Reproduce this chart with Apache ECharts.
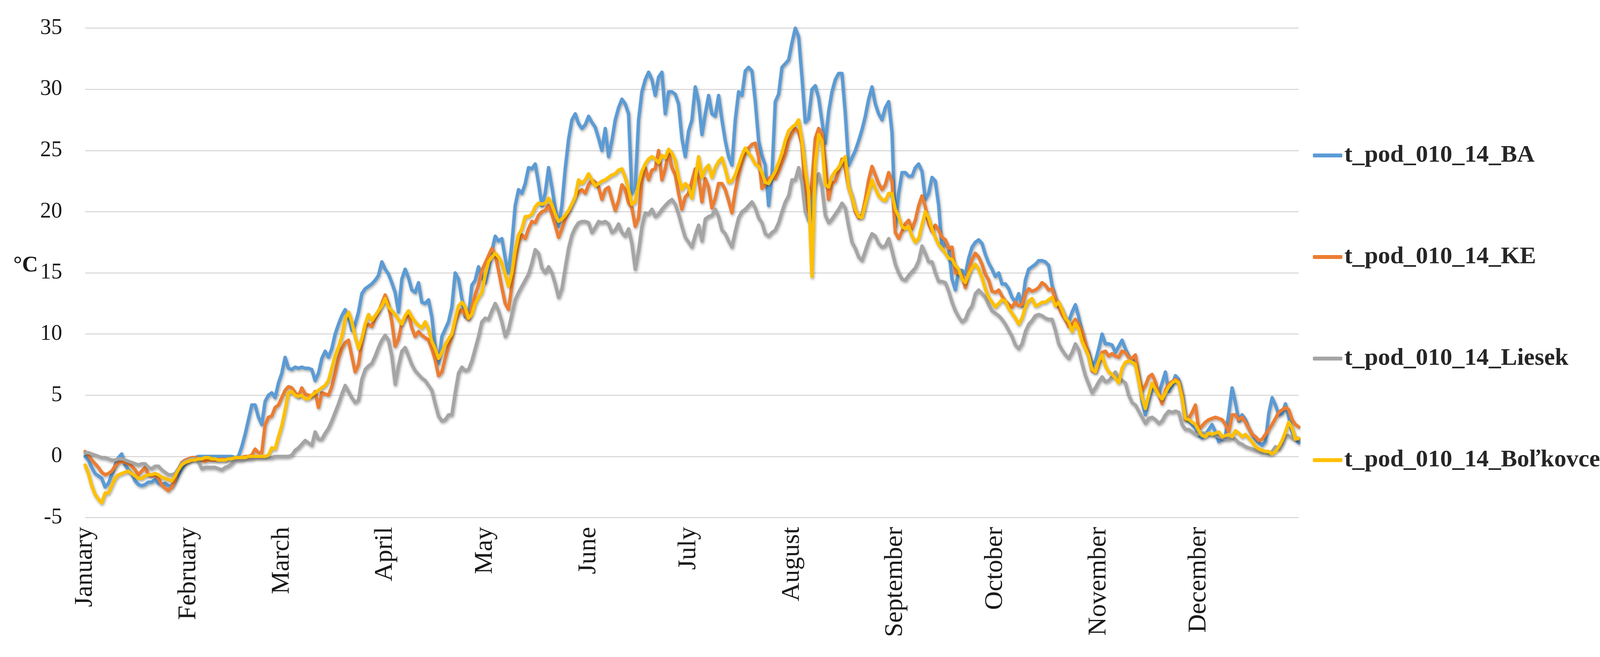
<!DOCTYPE html>
<html>
<head>
<meta charset="utf-8">
<script src="https://cdn.jsdelivr.net/npm/echarts@6/dist/echarts.min.js"></script>
<style>
html,body{margin:0;padding:0;background:#fff;overflow:hidden;}
#chart{width:100vw;height:100vh;}
</style>
</head>
<body>
<div id="chart"></div>
<script>
// Month names (tick labels) and month lengths
const monthNames = ['January','February','March','April','May','June','July','August','September','October','November','December'];
const monthLengths = [31,28,31,30,31,30,31,31,30,31,30,31];
const seriesNames = ['t_pod_010_14_BA','t_pod_010_14_KE','t_pod_010_14_Liesek','t_pod_010_14_Boľkovce'];

// Daily values, 10 days per line
const BA = [
0.0,-0.3,-0.9,-1.4,-1.6,-1.8,-2.5,-2.2,-1.5,-0.7,
-0.1,0.2,-0.7,-1.1,-1.4,-2.0,-2.3,-2.4,-2.3,-2.1,
-2.1,-1.9,-2.2,-2.3,-2.2,-2.4,-2.4,-2.0,-1.5,-1.0,
-0.6,-0.4,-0.2,-0.1,0.0,0.0,0.0,0.0,0.0,0.0,
0.0,0.0,0.0,0.0,0.0,-0.1,0.0,0.8,1.8,3.0,
4.2,4.2,3.2,2.6,4.5,5.0,5.2,4.8,6.0,6.8,
8.1,7.2,7.1,7.3,7.2,7.3,7.2,7.2,7.1,6.2,
6.8,8.0,8.6,8.1,8.8,10.0,10.8,11.5,12.0,11.4,
10.3,10.8,11.8,13.3,13.7,13.9,14.1,14.4,14.8,15.9,
15.3,14.9,14.2,13.4,11.8,14.5,15.3,14.6,13.6,13.4,
14.2,12.6,12.5,12.8,11.4,9.0,7.6,9.8,10.4,11.0,
12.2,15.0,14.5,12.9,11.4,11.5,14.0,14.4,15.5,14.7,
14.2,15.3,16.8,18.0,17.6,17.8,16.2,15.0,17.4,20.5,
21.8,21.5,22.3,23.6,23.5,23.9,22.3,20.5,21.5,23.6,
22.0,20.3,18.8,20.5,23.5,25.9,27.5,28.0,27.2,26.8,
27.1,27.8,27.3,26.9,26.0,25.0,26.8,24.5,25.8,27.5,
28.5,29.2,28.8,28.0,21.5,22.0,27.5,29.8,30.8,31.4,
30.8,29.5,31.0,31.4,28.0,29.8,29.8,29.6,28.8,26.0,
24.5,26.6,27.5,30.2,29.0,26.3,28.0,29.5,28.0,27.8,
29.5,27.5,25.8,24.5,23.8,27.5,29.8,29.5,31.5,31.8,
31.5,29.0,25.8,24.6,23.8,20.5,23.0,29.0,29.6,31.8,
32.1,32.4,33.8,35.0,34.3,31.0,27.3,27.6,30.0,30.3,
29.3,27.4,25.6,28.2,29.8,30.8,31.3,31.3,28.0,23.8,
24.4,25.0,25.8,26.7,27.8,29.2,30.2,28.8,28.0,27.5,
28.5,29.0,26.5,18.8,21.5,23.2,23.2,22.9,22.9,23.6,
23.9,23.3,21.0,21.5,22.8,22.5,20.5,17.0,17.5,17.0,
14.5,13.6,15.2,15.2,14.9,16.2,17.1,17.5,17.7,17.4,
16.5,15.8,15.3,14.7,15.0,14.1,14.1,13.7,13.0,12.6,
13.3,12.3,14.4,15.3,15.5,15.7,16.0,16.0,15.9,15.6,
14.0,13.0,12.4,12.0,11.3,11.0,11.8,12.4,11.4,10.2,
9.1,8.5,7.4,7.8,8.8,10.0,9.2,9.2,9.1,8.5,
9.0,9.5,8.8,8.2,7.9,7.8,6.5,4.5,3.4,4.6,
5.5,5.6,5.1,6.0,6.9,5.3,5.8,6.6,6.3,5.0,
3.1,2.9,2.6,2.3,1.7,1.5,1.8,2.2,2.6,2.0,
1.2,1.4,1.7,3.5,5.6,4.4,2.9,3.4,3.0,2.3,
1.8,1.4,1.1,0.9,1.2,3.5,4.8,4.2,3.4,3.5,
4.3,3.2,2.0,1.4,1.1
];

const KE = [
0.4,0.1,-0.3,-0.6,-0.9,-1.3,-1.5,-1.4,-1.2,-0.8,
-0.5,-0.4,-0.5,-0.6,-0.8,-1.1,-1.5,-1.2,-0.9,-1.5,
-1.6,-1.5,-1.8,-2.3,-2.6,-2.8,-2.5,-1.9,-1.0,-0.5,
-0.3,-0.2,-0.1,-0.1,-0.2,-0.3,-0.4,-0.3,-0.3,-0.3,
-0.3,-0.2,-0.3,-0.2,-0.2,-0.1,-0.1,-0.1,0.0,0.0,
0.1,0.6,0.3,0.3,2.6,3.2,3.3,4.0,4.2,4.8,
5.4,5.7,5.6,5.2,4.9,5.6,5.1,5.0,4.9,5.3,
4.0,5.2,5.1,5.0,5.7,6.8,8.0,8.8,9.3,9.5,
8.2,6.9,7.5,9.3,10.6,10.8,10.6,11.3,11.8,12.5,
13.2,12.4,11.0,9.0,9.6,10.9,11.3,11.6,10.5,9.8,
10.2,9.9,9.7,9.5,8.8,7.9,6.6,6.9,8.0,9.0,
9.8,11.0,11.7,12.0,11.6,11.2,12.2,13.2,14.0,15.2,
15.8,16.4,17.0,16.5,15.2,13.8,12.5,12.0,14.0,16.0,
17.5,18.1,17.8,18.6,19.2,19.1,19.7,20.0,20.1,20.5,
19.8,18.9,17.9,18.6,19.4,20.0,20.6,21.2,21.6,21.8,
21.5,22.2,22.6,22.4,22.0,21.0,21.8,22.0,21.0,20.1,
20.9,22.2,21.8,20.7,20.3,18.8,19.5,22.5,23.6,22.6,
23.4,23.5,25.0,22.6,23.5,24.9,23.6,23.0,21.5,20.2,
21.2,21.5,22.5,23.5,22.8,20.8,22.7,22.0,20.3,21.1,
22.3,22.3,21.8,20.9,19.9,21.7,23.0,24.0,24.8,25.2,
25.5,25.6,24.5,21.9,22.2,22.7,22.9,22.7,23.3,24.0,
24.7,25.8,26.4,26.8,26.5,25.5,21.5,19.4,22.5,26.0,
26.8,26.4,24.0,21.0,22.3,22.5,23.3,24.3,23.5,22.0,
21.2,20.0,19.5,19.7,21.0,22.6,23.7,23.0,22.3,21.8,
22.2,23.2,22.5,18.3,17.8,18.4,19.0,19.3,18.6,19.3,
20.5,21.3,20.4,19.0,18.4,18.9,18.5,17.9,17.7,17.0,
17.1,15.0,15.0,14.8,13.8,15.2,16.1,16.6,16.3,15.7,
14.9,14.4,13.5,13.4,13.6,13.1,12.7,12.4,12.2,12.6,
12.3,12.4,13.3,13.7,13.5,13.6,13.8,14.2,14.0,13.6,
13.7,12.9,12.2,11.6,11.2,10.6,10.8,11.2,10.8,10.2,
9.3,8.3,7.0,6.9,7.6,8.5,8.6,8.2,8.4,8.2,
8.1,8.6,8.5,8.1,8.0,8.3,6.5,5.4,5.8,6.5,
6.7,6.1,5.1,4.3,5.4,5.9,6.1,6.3,6.1,5.0,
3.0,3.1,3.6,4.2,2.2,2.5,2.8,3.0,3.1,3.2,
3.1,3.0,2.6,2.0,3.4,3.4,3.0,3.2,2.8,2.3,
1.8,1.6,1.3,1.4,1.8,2.2,2.6,3.1,3.6,3.8,
4.0,3.8,3.0,2.6,2.4
];

const Liesek = [
0.3,0.3,0.2,0.1,0.0,-0.1,-0.1,-0.2,-0.3,-0.3,
-0.2,-0.2,-0.3,-0.4,-0.5,-0.6,-0.7,-0.6,-0.6,-0.9,
-1.0,-0.8,-0.8,-1.1,-1.3,-1.5,-1.5,-1.4,-1.0,-0.6,
-0.4,-0.3,-0.2,-0.2,-0.4,-1.0,-0.9,-0.9,-0.9,-0.9,
-1.0,-1.1,-0.9,-0.8,-0.6,-0.3,-0.3,-0.3,-0.2,-0.2,
-0.2,-0.1,-0.1,-0.1,-0.1,-0.1,-0.1,0.0,0.0,0.0,
0.0,0.0,0.1,0.5,0.7,1.0,1.3,1.1,0.9,2.0,
1.4,1.4,1.9,2.3,2.9,3.6,4.3,5.1,5.8,5.3,
4.8,4.4,4.6,6.3,7.1,7.4,7.6,8.2,8.9,9.5,
9.9,9.5,8.2,5.9,7.4,8.6,8.9,8.2,7.5,7.0,
6.7,6.4,6.2,5.8,5.4,4.3,3.3,2.9,3.0,3.4,
3.4,5.2,6.8,7.3,7.0,7.1,7.8,8.8,9.8,11.0,
11.3,11.2,11.9,12.5,11.9,11.0,9.8,10.4,11.6,12.8,
13.4,13.9,14.4,14.9,15.8,16.9,16.6,15.4,15.0,15.5,
15.0,14.1,13.0,13.7,15.4,17.0,18.1,18.7,19.1,19.2,
19.2,19.1,18.3,18.7,19.2,19.1,19.2,19.0,18.3,18.5,
19.0,18.3,18.0,18.6,17.4,15.3,16.8,18.8,19.9,19.8,
20.2,19.6,19.8,20.2,20.5,20.8,21.0,20.6,19.8,18.8,
17.9,17.5,17.1,18.1,18.9,17.6,19.4,19.6,19.7,20.2,
19.6,18.5,18.2,17.6,17.1,18.4,19.5,20.0,20.2,20.5,
20.8,20.3,19.5,19.1,18.2,18.0,18.3,18.5,19.1,20.0,
20.8,21.3,22.6,22.6,23.6,22.4,20.0,19.3,20.8,22.2,
23.1,22.0,19.7,19.1,19.4,19.8,20.2,20.7,20.3,18.8,
17.5,17.0,16.3,16.0,16.8,17.6,18.2,18.0,17.4,17.1,
17.2,17.8,16.8,15.7,15.0,14.5,14.4,14.8,15.1,15.4,
16.0,17.2,16.6,15.9,15.9,15.0,14.3,14.3,14.2,13.5,
12.6,11.9,11.4,11.0,11.2,11.9,12.3,13.3,13.6,13.3,
13.0,12.4,11.9,11.7,11.5,11.2,10.8,10.3,9.8,9.1,
8.8,9.2,10.2,10.8,11.1,11.5,11.6,11.5,11.3,11.2,
11.2,10.3,9.2,8.7,8.3,8.0,8.5,9.2,8.7,7.6,
6.6,5.9,5.2,5.6,6.1,6.5,6.1,6.2,6.5,6.9,
6.4,6.2,6.0,5.0,4.4,4.2,3.7,3.2,2.7,3.1,
3.2,3.0,2.7,2.9,3.4,3.7,3.6,3.7,3.6,2.6,
2.2,2.2,2.0,1.8,1.8,1.9,1.9,1.8,1.8,1.7,
1.6,1.5,1.4,1.4,1.5,1.4,1.1,1.0,0.8,0.7,
0.6,0.5,0.4,0.3,0.3,0.2,0.4,0.8,0.6,1.0,
1.7,1.7,1.5,1.5,1.4
];

const Bolkovce = [
-0.7,-1.4,-2.4,-3.1,-3.5,-3.8,-3.0,-3.0,-2.4,-1.8,
-1.5,-1.4,-1.3,-1.2,-1.4,-1.6,-1.8,-1.8,-1.6,-1.5,
-1.5,-1.4,-1.5,-1.7,-1.8,-1.9,-2.0,-1.6,-1.1,-0.7,
-0.5,-0.4,-0.3,-0.3,-0.2,-0.2,-0.1,-0.1,-0.2,-0.2,
-0.3,-0.3,-0.3,-0.2,-0.2,-0.1,-0.1,-0.1,-0.1,0.0,
0.0,0.0,0.0,0.0,0.0,0.1,0.7,0.6,1.6,2.5,
3.8,5.2,5.3,5.0,4.9,5.0,4.7,4.7,5.0,5.2,
5.4,5.6,5.8,6.2,7.2,8.2,8.9,9.8,11.2,11.8,
11.0,9.8,8.8,9.6,10.8,11.6,11.1,11.5,11.9,12.3,
12.9,12.2,11.9,11.6,11.2,10.8,11.5,11.9,11.4,11.0,
10.7,10.5,11.0,10.4,9.4,8.8,8.0,8.5,9.1,9.6,
10.0,11.2,12.3,12.6,12.2,11.3,11.6,12.5,13.0,13.4,
14.8,15.9,16.3,16.6,16.3,15.8,14.9,13.9,15.0,16.8,
18.1,18.6,19.6,19.6,19.8,20.4,20.7,20.6,20.7,21.1,
20.6,19.8,19.2,19.4,19.7,20.1,20.6,21.2,22.6,22.3,
22.6,23.1,22.6,22.1,22.3,22.5,22.6,22.8,23.0,23.1,
23.4,23.5,22.8,21.8,20.6,20.8,22.3,23.3,23.9,24.3,
24.5,24.3,24.0,24.6,24.4,25.1,24.8,24.2,22.8,21.8,
22.3,22.0,21.1,22.6,24.5,22.8,23.5,23.8,22.8,23.6,
24.1,24.4,23.5,22.4,22.5,23.0,23.8,24.6,25.2,24.8,
24.4,23.9,23.7,23.2,22.4,22.3,22.8,23.3,24.0,24.8,
25.8,26.6,26.9,27.1,27.5,25.8,23.5,21.6,14.7,24.0,
26.3,25.8,22.2,22.0,22.9,23.3,23.6,24.1,24.5,22.0,
21.2,20.2,19.6,19.5,20.6,21.6,22.6,21.9,21.3,21.0,
20.9,21.5,21.5,20.2,19.6,18.8,18.6,18.8,18.0,17.5,
17.8,18.9,20.0,19.5,18.6,17.9,17.3,17.0,16.6,16.2,
16.1,15.6,15.3,14.5,14.2,14.9,15.4,15.7,15.3,14.6,
13.7,13.0,12.6,12.2,12.5,12.8,12.7,12.1,11.7,11.3,
10.8,11.3,12.2,12.7,12.9,12.3,12.4,12.6,12.6,12.8,
13.0,12.3,12.6,12.0,11.3,11.0,10.2,10.9,10.4,9.4,
8.8,8.2,7.1,6.9,7.8,8.3,7.4,6.9,6.7,6.4,
6.0,7.2,7.7,7.8,7.7,7.5,6.2,4.8,3.9,5.0,
6.0,5.5,5.0,4.7,5.2,5.7,6.0,6.2,6.0,4.8,
3.1,3.0,2.8,2.6,2.1,1.7,1.6,1.9,1.8,1.9,
2.0,1.6,1.7,1.8,1.6,2.1,1.9,1.6,1.8,1.5,
1.2,0.8,0.6,0.5,0.4,0.4,0.2,0.4,0.8,1.3,
2.0,2.8,2.3,1.4,1.5
];

const colors = ['#5B9BD5','#ED7D31','#A5A5A5','#FFC000'];
const seriesData = [BA, KE, Liesek, Bolkovce];

// Build day categories and month-start indices
const monthStarts = [];
const categories = [];
let acc = 0;
monthLengths.forEach((len, m) => {
  monthStarts.push(acc);
  for (let d = 0; d < len; d++) categories.push(m * 100 + d + 1);
  acc += len;
});
const startToName = {};
monthStarts.forEach((s, i) => { startToName[s] = monthNames[i]; });

// Layout is designed for a 4345 x 1682 canvas; scale to the actual viewport
const el = document.getElementById('chart');
const W = el.clientWidth || window.innerWidth;
const H = el.clientHeight || window.innerHeight;
const sx = W / 4345, sy = H / 1682, sf = Math.min(sx, sy);

const chart = echarts.init(el, null, {renderer: 'canvas'});
const option = {
  animation: false,
  backgroundColor: '#ffffff',
  grid: { left: 231 * sx, right: 818 * sx, top: 72 * sy, bottom: 357 * sy, containLabel: false },
  xAxis: {
    type: 'category',
    data: categories,
    boundaryGap: false,
    axisLine: { show: false },
    axisTick: { show: false },
    splitLine: { show: false },
    axisLabel: {
      interval: (idx) => startToName[idx] !== undefined,
      formatter: (val, idx) => startToName[idx] || '',
      rotate: 90,
      margin: 24 * sy,
      color: '#1a1a1a',
      fontFamily: 'Liberation Serif',
      fontSize: 70 * sf
    }
  },
  yAxis: {
    type: 'value',
    min: -5, max: 35, interval: 5,
    axisLine: { show: false },
    axisTick: { show: false },
    splitLine: { show: true, lineStyle: { color: '#D4D4D4', width: 2.5 * sf } },
    axisLabel: {
      margin: 62 * sx,
      color: '#1a1a1a',
      fontFamily: 'Liberation Serif',
      fontSize: 60 * sf
    }
  },
  legend: {
    orient: 'vertical',
    left: 3560 * sx,
    top: 358 * sy,
    itemWidth: 80 * sx,
    itemHeight: 10 * sy,
    itemGap: 190 * sy,
    icon: 'roundRect',
    textStyle: {
      fontFamily: 'Liberation Serif',
      fontWeight: 'bold',
      fontSize: 66 * sf,
      lineHeight: 70 * sy,
      color: '#262626'
    },
    data: seriesNames
  },
  graphic: [{
    type: 'text',
    left: 36 * sx,
    top: 652 * sy,
    style: { text: '°C', font: 'bold ' + (60 * sf) + 'px "Liberation Serif"', fill: '#1a1a1a' }
  }],
  series: seriesNames.map((name, i) => ({
    name: name,
    type: 'line',
    data: seriesData[i],
    symbol: 'none',
    smooth: false,
    z: 2 + i,
    lineStyle: {
      color: colors[i],
      width: 9 * sf,
      join: 'round',
      cap: 'round',
      shadowColor: 'rgba(0,0,0,0.35)',
      shadowBlur: 7 * sf,
      shadowOffsetX: 2 * sf,
      shadowOffsetY: 4 * sf
    },
    itemStyle: { color: colors[i] }
  }))
};
chart.setOption(option);
const lens = seriesData.map(a => a.length);
if (lens.some(l => l !== 365)) { throw new Error('lengths ' + lens.join(',')); }
</script>
</body>
</html>
